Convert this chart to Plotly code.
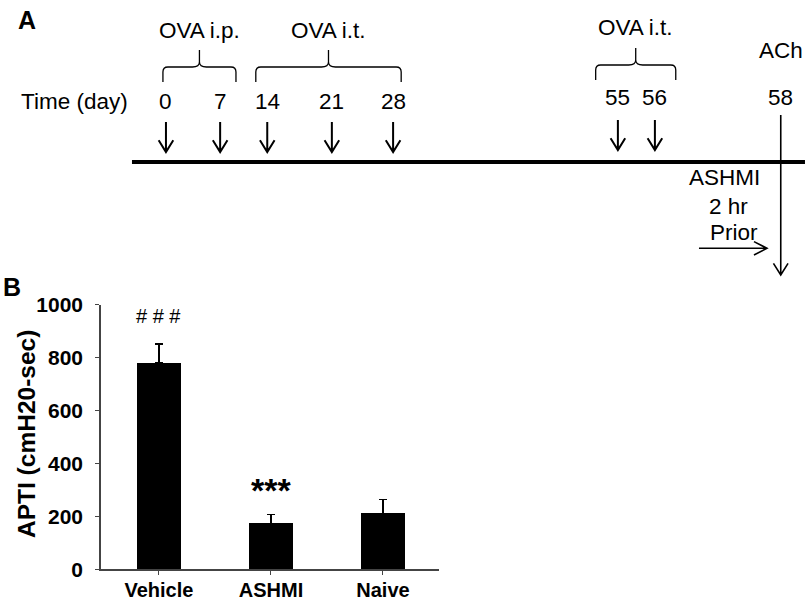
import plotly.graph_objects as go

# ---------------- Panel B data ----------------
groups = ["Vehicle", "ASHMI", "Naive"]
apti = [780, 173, 211]
apti_sem = [70, 34, 53]
sig_marks = ["# # #", "***", ""]
y_ticks = [0, 200, 400, 600, 800, 1000]
y_title = "APTI (cmH20-sec)"

# ---------------- Panel A schedule ----------------
ip_days = [0, 7]            # OVA i.p.
it_days = [14, 21, 28]      # OVA i.t.
late_it_days = [55, 56]     # OVA i.t.
ach_day = 58                # ACh challenge
# schematic (not to scale) position of each day along the time line, 0-100
day_pos = {0: 5.05, 7: 13.1, 14: 20.1, 21: 29.7, 28: 38.8, 55: 72.2, 56: 77.7, 58: 96.4}
# brace extents along the time line for each treatment block
braces = [("OVA i.p.", 4.6, 15.45), ("OVA i.t.", 18.4, 40.0), ("OVA i.t.", 68.9, 80.8)]

FONT = "Liberation Sans, Arial, sans-serif"
BLACK = "#000000"
AX = "#444444"
TXT = 22.5

fig = go.Figure()

# ---------- Panel B bars ----------
fig.add_trace(go.Bar(
    x=groups, y=apti, width=0.4,
    marker=dict(color=BLACK, line=dict(width=0)),
    error_y=dict(type="data", array=apti_sem, arrayminus=[0] * len(apti_sem),
                 symmetric=False, color=BLACK, thickness=1.5, width=4),
    xaxis="x", yaxis="y", showlegend=False, hoverinfo="skip",
))

for g, v, s, m in zip(groups, apti, apti_sem, sig_marks):
    if not m:
        continue
    if m.startswith("#"):
        fnt = dict(family=FONT, size=20, color=BLACK)
        ysh = 15
    else:
        fnt = dict(family=FONT, size=34, color=BLACK, weight="bold")
        ysh = 3
    fig.add_annotation(x=g, y=v + s, xref="x", yref="y", text=m, showarrow=False,
                       yanchor="bottom", yshift=ysh, font=fnt)

# y-axis title (placed beside the tick labels)
fig.add_annotation(x=26 / 807, y=(1 - 434 / 607), xref="paper", yref="paper",
                   text=y_title, textangle=-90, showarrow=False,
                   xanchor="center", yanchor="middle",
                   font=dict(family=FONT, size=24.5, color=BLACK, weight="bold"))

# ---------- Panel A timeline (schematic axis x2/y2) ----------
LINE_Y = 162
hw = 1.085   # arrow head half width (timeline units)
hh = 11.7    # arrow head height


def down_arrow(u, y0, y1, width=2):
    path = (f"M {u},{y0} L {u},{y1} "
            f"M {u - hw},{y1 - hh} L {u},{y1} L {u + hw},{y1 - hh}")
    fig.add_shape(type="path", path=path, xref="x2", yref="y2",
                  line=dict(color=BLACK, width=width))


def label(txt, u, v):
    fig.add_annotation(x=u, y=v, xref="x2", yref="y2", text=txt, showarrow=False,
                       xanchor="center", yanchor="middle",
                       font=dict(family=FONT, size=TXT, color=BLACK))


# main time line
fig.add_shape(type="line", x0=0, x1=100, y0=LINE_Y, y1=LINE_Y, xref="x2", yref="y2",
              line=dict(color=BLACK, width=4))

# injection arrows and day labels
for d in ip_days + it_days:
    down_arrow(day_pos[d], 122, 152)
    label(str(d), day_pos[d], 101.5)
for d in late_it_days:
    down_arrow(day_pos[d], 120, 150)
    label(str(d), day_pos[d], 97.5)

# ACh challenge arrow crossing the line
down_arrow(day_pos[ach_day], 115, 275, width=1.6)
label(str(ach_day), day_pos[ach_day], 97.5)
label("ACh", day_pos[ach_day], 50)

# braces
rx = 0.74
for i, (lab, xl, xr) in enumerate(braces):
    top = 67 if i < 2 else 65
    end = 82 if i < 2 else 80
    spike = 50 if i < 2 else 48
    xc = (xl + xr) / 2
    path = (f"M {xl},{end} L {xl},{top + 5} Q {xl},{top} {xl + rx},{top} "
            f"L {xc - rx * 1.4},{top} Q {xc},{top} {xc},{top - 5} L {xc},{spike} "
            f"M {xc},{top - 5} Q {xc},{top} {xc + rx * 1.4},{top} "
            f"L {xr - rx},{top} Q {xr},{top} {xr},{top + 5} L {xr},{end}")
    fig.add_shape(type="path", path=path, xref="x2", yref="y2",
                  line=dict(color=BLACK, width=1.3))
    label(lab, xc, 30 if i < 2 else 27.5)

# Time (day) label
label("Time (day)", -8.47, 101.5)

# ASHMI 2 hr prior note and arrow
for txt, ux, uy in [("ASHMI", 88.1, 177.5), ("2 hr", 88.6, 206), ("Prior", 89.5, 232.5)]:
    label(txt, ux, uy)
ax0, ax1, ay = 84.25, 94.35, 248.3
fig.add_shape(type="path", xref="x2", yref="y2",
              path=f"M {ax0},{ay} L {ax1},{ay} M {ax1 - 1.93},{ay - 6.7} L {ax1},{ay} L {ax1 - 1.93},{ay + 6.7}",
              line=dict(color=BLACK, width=1.6))

# panel letters
fig.add_annotation(x=26.7 / 807, y=1 - 19.5 / 607, xref="paper", yref="paper", text="A",
                   showarrow=False, xanchor="center", yanchor="middle",
                   font=dict(family=FONT, size=25, color=BLACK, weight="bold"))
fig.add_annotation(x=12 / 807, y=1 - 286.5 / 607, xref="paper", yref="paper", text="B",
                   showarrow=False, xanchor="center", yanchor="middle",
                   font=dict(family=FONT, size=25, color=BLACK, weight="bold"))

fig.update_layout(
    width=807, height=607,
    margin=dict(l=0, r=0, t=0, b=0, pad=0, autoexpand=False),
    paper_bgcolor="white", plot_bgcolor="rgba(0,0,0,0)",
    showlegend=False,
    bargap=0,
    hovermode=False,
    xaxis=dict(domain=[100.7 / 807, 439 / 807], type="category", range=[-0.52, 2.5],
               automargin=False,
               showline=True, linecolor=AX, linewidth=1.5, ticks="outside", ticklen=4,
               tickcolor=AX, tickwidth=1, showgrid=False, zeroline=False,
               ticklabelstandoff=-2,
               tickfont=dict(family=FONT, size=20, color=BLACK, weight="bold"),
               anchor="y"),
    yaxis=dict(domain=[(607 - 569.3) / 607, (607 - 304.5) / 607], range=[0, 1000],
               automargin=False,
               tickvals=y_ticks, tickformat="d",
               showline=True, linecolor=AX, linewidth=1.5, ticks="outside", ticklen=4,
               tickcolor=AX, tickwidth=1, showgrid=False, zeroline=False,
               ticklabelstandoff=8,
               tickfont=dict(family=FONT, size=21, color=BLACK, weight="bold"),
               anchor="x"),
    xaxis2=dict(domain=[0, 1], range=[-19.61, 100.30], visible=False, anchor="y2",
                automargin=False),
    yaxis2=dict(domain=[1 - 290 / 607, 1], range=[290, 0], visible=False, anchor="x2",
                automargin=False),
)

fig.write_html("out.html", config={"displayModeBar": False, "staticPlot": True},
               post_script="document.body.style.margin='0';document.body.style.overflow='hidden';")
